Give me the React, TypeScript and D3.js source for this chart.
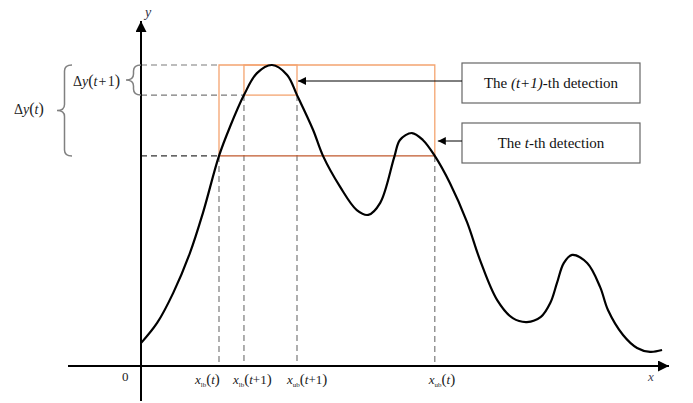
import * as React from 'react';
import * as d3 from 'd3';

// curve samples (arbitrary units: x 0..100, y 0..100)
const curveX = [0, 3.1, 6.2, 9.4, 11.9, 15.0, 17.1, 19.8, 22.3, 25.2, 28.1, 30.0, 33.1, 35.0, 38.3, 41.5, 43.7, 46.0, 48.7, 49.8, 52.1, 54.2, 56.5, 59.4, 62.7, 65.2, 68.5, 71.5, 74.2, 76.9, 78.7, 80.0, 81.3, 82.9, 85.8, 88.3, 89.8, 92.7, 95.4, 97.9, 100.2];
const curveY = [7.6, 14.3, 24.3, 37.5, 50.8, 69.8, 79.4, 90.0, 97.3, 100, 96.7, 90.0, 78.4, 69.8, 59.5, 51.8, 50.2, 54.2, 69.4, 75.1, 77.4, 75.1, 69.8, 60.8, 47.8, 35.2, 21.9, 15.9, 14.6, 16.3, 20.9, 27.6, 34.2, 36.9, 34.2, 26.2, 18.6, 10.3, 6.0, 4.7, 5.3];

// detection bounds
const lbT = 15.0;
const ubT = 56.5;
const lbT1 = 19.8;
const ubT1 = 30.0;
const peakY = 100;
const levelT = 69.8;
const levelT1 = 90.0;

const boxLabels = ['(t+1)', 't'];

const width = 693;
const height = 403;

const orange = '#f4a470';
const brown = '#c0582c';
const dashGray = '#7a7a7a';
const serif = "'Liberation Serif', 'DejaVu Serif', serif";

interface Pt { x: number, y: number }

function bracePath(xr: number, y1: number, y2: number, w: number) {
    const ym = (y1 + y2) / 2;
    const xm = xr - w / 2;
    const xt = xr - w;
    const r = Math.min(6, (y2 - y1) / 4);
    return `M${xr},${y1} Q${xm},${y1} ${xm},${y1 + r} L${xm},${ym - r} Q${xm},${ym} ${xt},${ym} ` +
        `Q${xm},${ym} ${xm},${ym + r} L${xm},${y2 - r} Q${xm},${y2} ${xr},${y2}`;
}

class DetectionChart extends React.Component<object, object> {
    private node: SVGSVGElement | null = null;

    render() {
        return <svg
            ref={node => { this.node = node; }}
            width={width}
            height={height}
            style={{ position: 'absolute', left: 0, top: 0, background: '#fff', fontFamily: serif }}>
        </svg>
    }

    componentDidMount() {
        this.draw();
    }

    draw() {
        const svg = d3.select(this.node);
        svg.selectAll('*').remove();

        const x = d3.scaleLinear().domain([0, 100]).range([141, 661]);
        const y = d3.scaleLinear().domain([0, 100]).range([366, 65]);
        const x0 = x(0);
        const y0 = y(0);

        const defs = svg.append('defs');
        const mk = (id: string, size: number) => defs.append('marker')
            .attr('id', id)
            .attr('viewBox', '0 0 10 10')
            .attr('refX', 10).attr('refY', 5)
            .attr('markerWidth', size).attr('markerHeight', size)
            .attr('markerUnits', 'userSpaceOnUse')
            .attr('orient', 'auto')
            .append('path').attr('d', 'M0,0 L10,5 L0,10 z').attr('fill', '#000');
        mk('axisArrow', 11);
        mk('smallArrow', 8);

        const text = (tx: number, ty: number, size: number) => svg.append('text')
            .attr('x', tx).attr('y', ty)
            .attr('font-family', serif)
            .attr('font-size', size)
            .attr('fill', '#222');

        // dashed guides
        const hGuides = [
            { yv: peakY, x2: x(lbT), color: dashGray },
            { yv: levelT1, x2: x(lbT1), color: dashGray },
            { yv: levelT, x2: x(lbT), color: '#333' },
        ];
        hGuides.forEach(g => {
            svg.append('line')
                .attr('x1', x0).attr('x2', g.x2)
                .attr('y1', y(g.yv)).attr('y2', y(g.yv))
                .attr('stroke', g.color).attr('stroke-width', 1.2)
                .attr('stroke-dasharray', '6,4');
        });
        const vGuides = [
            { xv: lbT, top: levelT },
            { xv: lbT1, top: levelT1 },
            { xv: ubT1, top: levelT1 },
            { xv: ubT, top: levelT },
        ];
        vGuides.forEach(g => {
            svg.append('line')
                .attr('x1', x(g.xv)).attr('x2', x(g.xv))
                .attr('y1', y(g.top)).attr('y2', y0)
                .attr('stroke', dashGray).attr('stroke-width', 1.2)
                .attr('stroke-dasharray', '6,4');
        });

        // detection boxes
        const rectT = svg.append('g').attr('fill', 'none').attr('stroke-width', 1.3);
        rectT.append('path')
            .attr('d', `M${x(lbT)},${y(levelT)} L${x(lbT)},${y(peakY)} L${x(ubT)},${y(peakY)} L${x(ubT)},${y(levelT)}`)
            .attr('stroke', orange);
        rectT.append('line')
            .attr('x1', x(lbT)).attr('x2', x(ubT))
            .attr('y1', y(levelT)).attr('y2', y(levelT))
            .attr('stroke', brown);
        svg.append('rect')
            .attr('x', x(lbT1)).attr('y', y(peakY))
            .attr('width', x(ubT1) - x(lbT1))
            .attr('height', y(levelT1) - y(peakY))
            .attr('fill', 'none').attr('stroke', orange).attr('stroke-width', 1.3);

        // axes
        svg.append('line')
            .attr('x1', 68).attr('x2', 669)
            .attr('y1', y0).attr('y2', y0)
            .attr('stroke', '#000').attr('stroke-width', 2)
            .attr('marker-end', 'url(#axisArrow)');
        svg.append('line')
            .attr('x1', x0).attr('x2', x0)
            .attr('y1', 401).attr('y2', 21)
            .attr('stroke', '#000').attr('stroke-width', 2)
            .attr('marker-end', 'url(#axisArrow)');

        // curve
        const pts: Pt[] = curveX.map((v, i) => ({ x: v, y: curveY[i] }));
        svg.append('path')
            .datum(pts)
            .attr('fill', 'none')
            .attr('stroke', '#000')
            .attr('stroke-width', 2.2)
            .attr('stroke-linejoin', 'round')
            .attr('d', d3.line<Pt>()
                .curve(d3.curveCatmullRom.alpha(0.5))
                .x(d => x(d.x))
                .y(d => y(d.y)));

        // braces
        svg.append('path')
            .attr('d', bracePath(72, y(peakY), y(levelT), 15))
            .attr('fill', 'none').attr('stroke', '#808080').attr('stroke-width', 1.5);
        svg.append('path')
            .attr('d', bracePath(x0, y(peakY), y(levelT1), 15))
            .attr('fill', 'none').attr('stroke', '#808080').attr('stroke-width', 1.5);

        const dy = (tx: number, ty: number, arg: string) => {
            const t = text(tx, ty, 14);
            t.append('tspan').text('\u0394');
            t.append('tspan').attr('font-style', 'italic').text('y');
            t.append('tspan').attr('font-size', 16).text('(');
            t.append('tspan').attr('font-style', 'italic').text(arg.charAt(0));
            if (arg.length > 1) t.append('tspan').text(arg.slice(1));
            t.append('tspan').attr('font-size', 16).text(')');
        };
        dy(14, 114, 't');
        dy(73, 86, 't\u200A+\u200A1');

        // x labels, nudged left of their guide lines as in the original
        const xLabel = (xv: number, shift: number, sub: string, arg: string) => {
            const t = text(x(xv) + shift, 384, 13);
            t.append('tspan').attr('font-style', 'italic').text('x');
            t.append('tspan').attr('font-size', 7).attr('dy', 3).text(sub);
            t.append('tspan').attr('font-size', 15).attr('dy', -3).text('(');
            t.append('tspan').attr('font-style', 'italic').text('t');
            if (arg.length) t.append('tspan').text(arg);
            t.append('tspan').attr('font-size', 15).text(')');
        };
        xLabel(lbT, -24, 'lb', '');
        xLabel(lbT1, -11, 'lb', '+1');
        xLabel(ubT1, -10, 'ub', '+1');
        xLabel(ubT, -6, 'ub', '');

        text(122, 381, 13).text('0');
        text(145, 17, 14).attr('font-style', 'italic').attr('fill', '#334').text('y');
        text(648, 381, 13).attr('font-style', 'italic').attr('fill', '#445').text('x');

        // callout boxes
        const boxes = [
            { top: 63, arrowY: 81, tipX: x(ubT1) + 1, label: boxLabels[0] },
            { top: 123, arrowY: 141, tipX: x(ubT) + 3, label: boxLabels[1] },
        ];
        boxes.forEach(b => {
            svg.append('rect')
                .attr('x', 462).attr('y', b.top)
                .attr('width', 178).attr('height', 40)
                .attr('fill', '#fff').attr('stroke', '#666').attr('stroke-width', 1.2);
            svg.append('line')
                .attr('x1', 462).attr('x2', b.tipX)
                .attr('y1', b.arrowY).attr('y2', b.arrowY)
                .attr('stroke', '#000').attr('stroke-width', 1)
                .attr('marker-end', 'url(#smallArrow)');
            const t = text(551, b.top + 25, 15)
                .attr('text-anchor', 'middle')
                .attr('fill', '#111');
            t.append('tspan').text('The ');
            t.append('tspan').attr('font-style', 'italic').text(b.label);
            t.append('tspan').text('-th detection');
        });
    }
}

export default function App() {
    return <DetectionChart />;
}
